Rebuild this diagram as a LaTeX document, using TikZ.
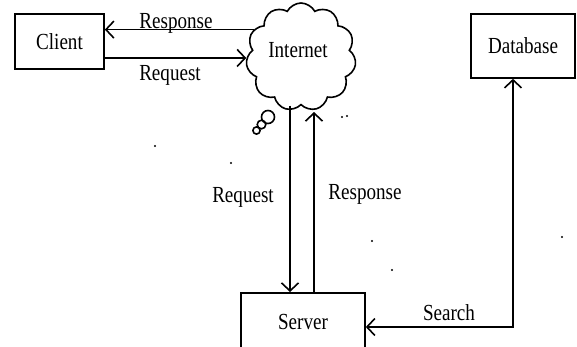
\documentclass[tikz,border=0pt]{standalone}
\usepackage{fontspec}
\setmainfont{Liberation Serif}[FakeStretch=0.83]
\usetikzlibrary{arrows.meta}
\usetikzlibrary{shapes.symbols}

\begin{document}
\begin{tikzpicture}[x=1pt, y=-1pt, line width=1.6pt,
        >={Straight Barb[length=8pt,width=17pt]},
        every node/.style={font=\fontsize{23}{27}\selectfont},
        box/.style={draw, rectangle, inner sep=0pt},
        cloudy/.style={draw, cloud, cloud puffs=11, cloud puff arc=125, aspect=1.0,
            minimum width=110, minimum height=108, inner sep=0pt},
        lbl/.style={anchor=base, inner sep=0pt}]
        \useasboundingbox (0,0) rectangle (577,346);

        % boxes and the cloud
        \node[box, minimum width=89, minimum height=55] (client) at (59.5,41.5) {Client};
        \node[box, minimum width=104, minimum height=64] (database) at (523,46) {Database};
        \node[box, minimum width=124, minimum height=58, anchor=north] (server) at (303,292) {Server};
        \node[cloudy] (internet) at (301,57) {};
        \node[lbl] (internettext) at (298,57) {Internet};

        % little bubbles under the cloud
        \draw (268,117) circle (6.5);
        \draw (261.5,124.5) circle (4.3);
        \draw (256.5,130.5) circle (3.6);

        % client <-> internet
        \draw[->] (internet.150) -- (internet.150 -| client.east);
        \draw[->] (client.east |- internet.181) -- (internet.181);
        \node[lbl] (resp1) at (176,28) {Response};
        \node[lbl] (req1) at (170,80) {Request};

        % internet <-> server
        \coordinate (down) at (290,0);
        \coordinate (up) at (314,112);
        \draw[->] (internet.south -| down) -- (down |- server.north);
        \draw[->] (server.north -| up) -- (up);
        \node[lbl] (req2) at (243,202) {Request};
        \node[lbl] (resp2) at (365,199) {Response};

        % server <-> database
        \coordinate (corner) at (513,327);
        \draw[<->] (server.east |- corner) -- (corner) -- (corner |- database.south);
        \node[lbl] (search) at (449,320) {Search};

        % stray specks
        \foreach \p in {(155,146), (231,163), (342,117), (347,116), (372,241), (392,270), (562,237)}
            \fill \p circle (1.1);
\end{tikzpicture}
\end{document}
